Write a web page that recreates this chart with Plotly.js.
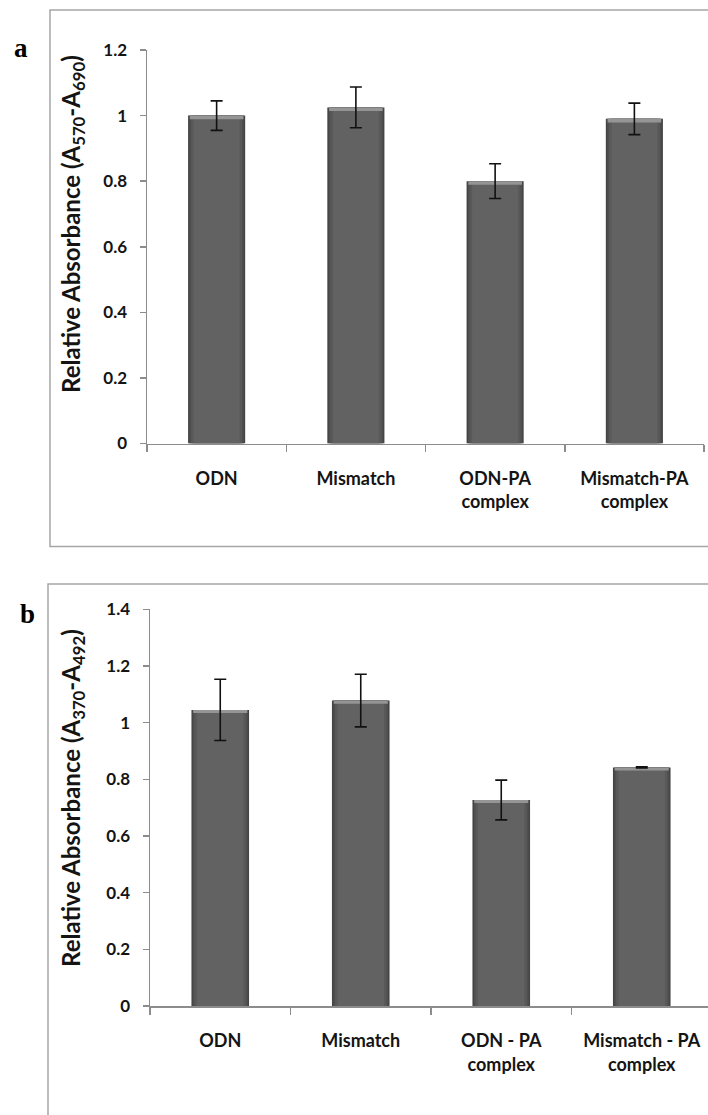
<!DOCTYPE html>
<html>
<head>
<meta charset="utf-8">
<script src="https://cdn.plot.ly/plotly-3.0.1.min.js"></script>
<style>
  html, body { margin: 0; padding: 0; background: #ffffff; }
  #chart { width: 708px; height: 1115px; }
</style>
</head>
<body>
<div id="chart"></div>
<script>
// Panel a: cell viability assay (A570 - A690)
const categoriesA = ['ODN', 'Mismatch', 'ODN-PA<br>complex', 'Mismatch-PA<br>complex'];
const valuesA = [1.00, 1.025, 0.80, 0.99];
const errorsA = [0.045, 0.062, 0.053, 0.048];

// Panel b: assay read at A370 - A492
const categoriesB = ['ODN', 'Mismatch', 'ODN - PA<br>complex', 'Mismatch - PA<br>complex'];
const valuesB = [1.045, 1.078, 0.727, 0.842];
const errorsB = [0.108, 0.093, 0.070, 0.002];

const yTicksA = [0, 0.2, 0.4, 0.6, 0.8, 1, 1.2];
const yTicksB = [0, 0.2, 0.4, 0.6, 0.8, 1, 1.2, 1.4];

const W = 708, H = 1115;
const px = x => x / W;
const py = y => 1 - y / H;

// layered bar bodies give a soft cylinder-like shading: dark rim, lighter face
const BAR_LAYERS = [
  { width: 0.41, color: '#444444' },
  { width: 0.39, color: '#4f4f4f' },
  { width: 0.365, color: '#595959' },
  { width: 0.33, color: '#626262' }
];
const BEVEL = '#959595';
const BEVEL_H = [0.011, 0.011];

function barSet(cats, vals, errs, xa, ya, bevelH) {
  const traces = BAR_LAYERS.map(l => ({
    type: 'bar', x: cats, y: vals, width: l.width, xaxis: xa, yaxis: ya,
    marker: { color: l.color, line: { width: 0 } }, hoverinfo: 'skip'
  }));
  traces.push({
    type: 'bar', x: cats, y: vals.map(() => bevelH), base: vals.map(v => v - bevelH),
    width: 0.385, xaxis: xa, yaxis: ya,
    marker: { color: BEVEL, line: { width: 0 } }, hoverinfo: 'skip'
  });
  traces.push({
    type: 'bar', x: cats, y: vals, width: 0.41, xaxis: xa, yaxis: ya,
    marker: { color: 'rgba(0,0,0,0)', line: { width: 0 } },
    error_y: { type: 'data', array: errs, visible: true, color: '#111111',
               thickness: 1.6, width: 6 },
    hoverinfo: 'skip'
  });
  return traces;
}

const data = [
  ...barSet(categoriesA, valuesA, errorsA, 'x', 'y', BEVEL_H[0]),
  ...barSet(categoriesB, valuesB, errorsB, 'x2', 'y2', BEVEL_H[1])
];

const tickFont = { family: 'Lato, sans-serif', size: 17, color: '#141414', weight: 700 };
const catFont = { family: 'Lato, sans-serif', size: 18, color: '#141414', weight: 700 };
const AXIS_GREY = '#8c8c8c';

const xCommon = {
  type: 'category', showline: true, linecolor: AXIS_GREY, linewidth: 1.5,
  ticks: 'outside', tickson: 'boundaries', ticklen: 7, tickcolor: AXIS_GREY, tickwidth: 1.5,
  showgrid: false, zeroline: false, tickfont: catFont, ticklabelstandoff: 18, fixedrange: true
};
const yCommon = {
  showline: true, linecolor: AXIS_GREY, linewidth: 1.5,
  ticks: 'outside', ticklen: 6, tickcolor: AXIS_GREY, tickwidth: 1.5,
  showgrid: false, zeroline: false, tickfont: tickFont, ticklabelstandoff: 9, fixedrange: true
};

const titleFont = { family: 'Lato, sans-serif', size: 24, color: '#141414', weight: 700 };

const layout = {
  width: W, height: H,
  margin: { l: 0, r: 0, t: 0, b: 0 },
  paper_bgcolor: '#ffffff', plot_bgcolor: 'rgba(0,0,0,0)',
  showlegend: false, barmode: 'overlay',
  xaxis: Object.assign({}, xCommon, { domain: [px(147), px(704)], range: [-0.5, 3.5], anchor: 'y' }),
  yaxis: Object.assign({}, yCommon, { domain: [py(443.5), py(50)], range: [0, 1.2],
    tickvals: yTicksA, ticktext: yTicksA.map(String), anchor: 'x' }),
  xaxis2: Object.assign({}, xCommon, { domain: [px(150), 1], range: [-0.5, -0.5 + 558 / 140.5], anchor: 'y2' }),
  yaxis2: Object.assign({}, yCommon, { domain: [py(1006), py(609.3)], range: [0, 1.4],
    tickvals: yTicksB, ticktext: yTicksB.map(String), anchor: 'x2' }),
  shapes: [
    { type: 'rect', xref: 'paper', yref: 'paper', x0: px(50), x1: 1.05, y0: py(546.5), y1: py(10),
      line: { color: '#a6a6a6', width: 1.5 }, fillcolor: 'rgba(0,0,0,0)', layer: 'below' },
    { type: 'rect', xref: 'paper', yref: 'paper', x0: px(48), x1: 1.05, y0: -0.05, y1: py(584),
      line: { color: '#a6a6a6', width: 1.5 }, fillcolor: 'rgba(0,0,0,0)', layer: 'below' }
  ],
  annotations: [
    { text: 'Relative Absorbance (A<sub>570</sub>-A<sub>690</sub>)', textangle: -90,
      xref: 'paper', yref: 'paper', x: px(72), y: py(224), xanchor: 'center', yanchor: 'middle',
      showarrow: false, font: titleFont },
    { text: 'Relative Absorbance (A<sub>370</sub>-A<sub>492</sub>)', textangle: -90,
      xref: 'paper', yref: 'paper', x: px(72), y: py(798), xanchor: 'center', yanchor: 'middle',
      showarrow: false, font: titleFont },
    { text: 'a', xref: 'paper', yref: 'paper', x: px(21), y: py(48), xanchor: 'center', yanchor: 'middle',
      showarrow: false, font: { family: 'Liberation Serif, serif', size: 27, color: '#000000', weight: 700 } },
    { text: 'b', xref: 'paper', yref: 'paper', x: px(27), y: py(614), xanchor: 'center', yanchor: 'middle',
      showarrow: false, font: { family: 'Liberation Serif, serif', size: 27, color: '#000000', weight: 700 } }
  ]
};

Plotly.newPlot('chart', data, layout, { displayModeBar: false, staticPlot: true });
</script>
</body>
</html>
